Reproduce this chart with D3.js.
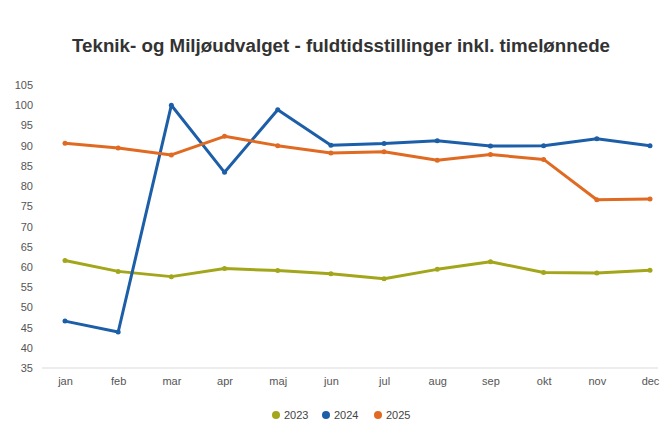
<!DOCTYPE html>
<html lang="da">
<head>
<meta charset="UTF-8">
<title>Teknik- og Miljøudvalget</title>
<script src="https://d3js.org/d3.v7.min.js"></script>
<style>
  body { margin: 0; background: #fff; }
  svg { font-family: "Liberation Sans", Arial, sans-serif; }
</style>
</head>
<body>
<script>
// data
var months = ["jan", "feb", "mar", "apr", "maj", "jun", "jul", "aug", "sep", "okt", "nov", "dec"];
var yTicks = [35, 40, 45, 50, 55, 60, 65, 70, 75, 80, 85, 90, 95, 100, 105];
var years = ["2023", "2024", "2025"];
var v2023 = [61.6, 58.9, 57.6, 59.6, 59.1, 58.3, 57.1, 59.4, 61.3, 58.6, 58.5, 59.2];
var v2024 = [46.6, 43.9, 100, 83.4, 98.9, 90.1, 90.5, 91.2, 89.9, 90.0, 91.7, 90.0];
var v2025 = [90.6, 89.4, 87.7, 92.3, 90.0, 88.2, 88.5, 86.4, 87.8, 86.6, 76.6, 76.8];

var colors = ["#a3a61b", "#1c5ea8", "#e06a22"];
var series = [v2023, v2024, v2025];

var W = 668, H = 421;
var svg = d3.select("body").append("svg")
    .attr("width", W)
    .attr("height", H);

svg.append("text")
    .attr("x", 341)
    .attr("y", 52)
    .attr("text-anchor", "middle")
    .attr("font-size", 18)
    .attr("font-weight", "bold")
    .attr("fill", "#333")
    .attr("textLength", 538)
    .attr("lengthAdjust", "spacingAndGlyphs")
    .text("Teknik- og Miljøudvalget - fuldtidsstillinger inkl. timelønnede");

var x = d3.scalePoint().domain(months).range([65, 650]);
var y = d3.scaleLinear().domain([35, 105]).range([368, 85]);

// baseline
svg.append("line")
    .attr("x1", 42).attr("x2", 658)
    .attr("y1", y(35)).attr("y2", y(35))
    .attr("stroke", "#d9d9d9");

var yAxis = svg.append("g")
    .attr("transform", "translate(33,0)")
    .call(d3.axisLeft(y).tickValues(yTicks).tickSize(0).tickPadding(0));
yAxis.select(".domain").remove();
yAxis.selectAll("text").attr("font-size", 11).attr("fill", "#555");

var xAxis = svg.append("g")
    .attr("transform", "translate(0," + (y(35) + 4) + ")")
    .call(d3.axisBottom(x).tickSize(0).tickPadding(5));
xAxis.select(".domain").remove();
xAxis.selectAll("text").attr("font-size", 11).attr("fill", "#555");

var line = d3.line()
    .x(function (d, i) { return x(months[i]); })
    .y(function (d) { return y(d); });

series.forEach(function (s, k) {
    svg.append("path")
        .datum(s)
        .attr("d", line)
        .attr("fill", "none")
        .attr("stroke", colors[k])
        .attr("stroke-width", 3)
        .attr("stroke-linejoin", "round");
    svg.selectAll(null)
        .data(s)
        .enter()
        .append("circle")
        .attr("cx", function (d, i) { return x(months[i]); })
        .attr("cy", function (d) { return y(d); })
        .attr("r", 2.5)
        .attr("fill", colors[k]);
});

// legend
var legend = svg.append("g").attr("transform", "translate(276,415)");
var lx = [0, 50, 102];
years.forEach(function (yr, k) {
    var g = legend.append("g").attr("transform", "translate(" + lx[k] + ",0)");
    g.append("circle").attr("r", 4).attr("fill", colors[k]);
    g.append("text")
        .attr("x", 8)
        .attr("y", 4)
        .attr("font-size", 11)
        .attr("fill", "#444")
        .text(yr);
});
</script>
</body>
</html>
